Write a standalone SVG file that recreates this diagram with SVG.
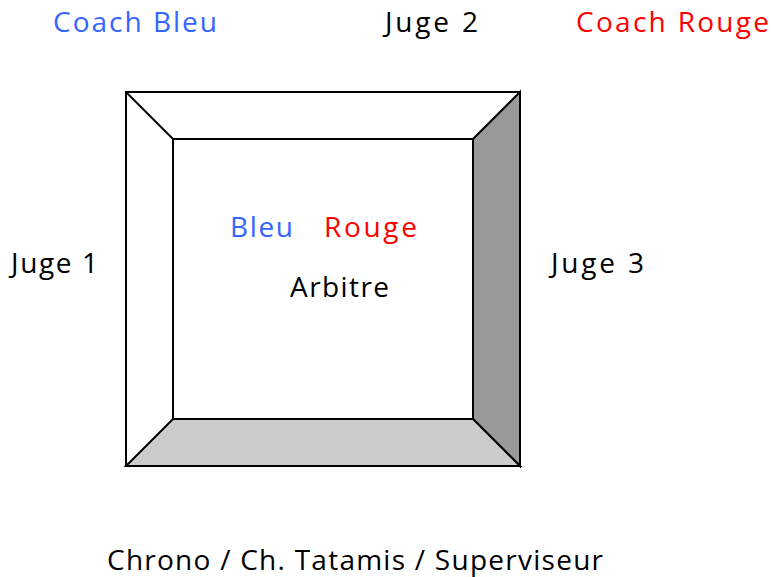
<svg xmlns="http://www.w3.org/2000/svg" width="772" height="577" viewBox="0 0 772 577">
<style>
text{font-family:"Open Sans","Noto Sans",sans-serif;font-size:28px;fill:#000}
.b{fill:#3366ff}
.r{fill:#ff0000}
.s{stroke:#000;stroke-width:2;stroke-linejoin:miter}
</style>
<rect width="772" height="577" fill="#fff"/>
<g id="tatami">
<rect class="s" x="126" y="92" width="394" height="374" fill="#fff"/>
<polygon class="s" points="473,139 520,92 520,466 473,419" fill="#999999"/>
<polygon class="s" points="173,419 473,419 520,466 126,466" fill="#cccccc"/>
<rect class="s" x="173" y="139" width="300" height="280" fill="#fff"/>
<line class="s" x1="126" y1="92" x2="173" y2="139"/>
</g>
<g id="coach-bleu"><text class="b" x="53" y="32" textLength="164">Coach Bleu</text></g>
<g id="juge-2"><text x="385" y="32" textLength="93">Juge 2</text></g>
<g id="coach-rouge"><text class="r" x="576" y="32" textLength="193">Coach Rouge</text></g>
<g id="bleu"><text class="b" x="230" y="237" textLength="63">Bleu</text></g>
<g id="rouge"><text class="r" x="324" y="237" textLength="93">Rouge</text></g>
<g id="arbitre"><text x="290" y="297" textLength="99">Arbitre</text></g>
<g id="juge-1"><text x="11" y="273" textLength="87">Juge 1</text></g>
<g id="juge-3"><text x="551" y="273" textLength="93">Juge 3</text></g>
<g id="table"><text x="107" y="570" textLength="496">Chrono / Ch. Tatamis / Superviseur</text></g>
<g id="connectors"></g>
</svg>
